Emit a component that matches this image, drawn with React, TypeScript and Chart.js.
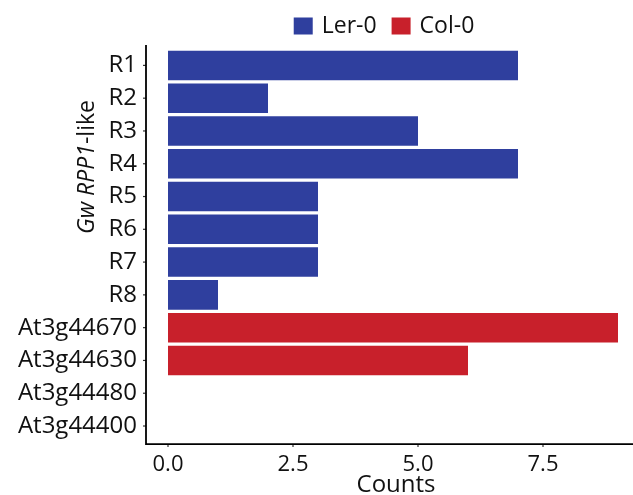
import React, { useEffect, useRef } from "react";
import { Chart, registerables } from "chart.js";

Chart.register(...registerables);

const categories = ["R1", "R2", "R3", "R4", "R5", "R6", "R7", "R8", "At3g44670", "At3g44630", "At3g44480", "At3g44400"];
const lerValues = [7, 2, 5, 7, 3, 3, 3, 1, null, null, null, null];
const colValues = [null, null, null, null, null, null, null, null, 9, 6, 0, 0];
const seriesNames = ["Ler-0", "Col-0"];
const seriesColors = ["#2F3F9E", "#C8202B"];
const xTickValues = [0, 2.5, 5, 7.5];
const xMin = -0.44;
const xMax = 9.3;
const FONT = "'Open Sans', 'DejaVu Sans', sans-serif";

const overlay = {
  id: "overlay",
  afterDraw(chart: any) {
    const ctx = chart.ctx;
    const a = chart.chartArea;
    const xs = chart.scales.x;
    const ys = chart.scales.y;
    const c0 = ys.getPixelForValue(0);
    const cN = ys.getPixelForValue(categories.length - 1);
    const sp = ys.getPixelForValue(1) - c0;
    const top = c0 - 0.62 * sp;
    const bottom = cN + 0.55 * sp;
    ctx.save();
    // tick marks
    ctx.strokeStyle = "#333";
    ctx.lineWidth = 1.2;
    categories.forEach((_, i) => {
      const y = ys.getPixelForValue(i);
      ctx.beginPath();
      ctx.moveTo(a.left - 3, y);
      ctx.lineTo(a.left, y);
      ctx.stroke();
    });
    xTickValues.forEach((v) => {
      const x = xs.getPixelForValue(v);
      ctx.beginPath();
      ctx.moveTo(x, bottom);
      ctx.lineTo(x, bottom + 3);
      ctx.stroke();
    });
    // axis lines
    ctx.strokeStyle = "#000";
    ctx.lineWidth = 1.8;
    ctx.beginPath();
    ctx.moveTo(a.left, top);
    ctx.lineTo(a.left, bottom);
    ctx.lineTo(a.right, bottom);
    ctx.stroke();

    // legend
    ctx.font = `23px ${FONT}`;
    ctx.textBaseline = "middle";
    ctx.fillStyle = "#111";
    const boxW = 19, boxH = 17, gapBox = 9, gapItem = 15;
    const widths = seriesNames.map((n) => ctx.measureText(n).width);
    const total = widths.reduce((s, w) => s + boxW + gapBox + w, 0) + gapItem * (seriesNames.length - 1);
    let lx = 384 - total / 2;
    const ly = 26;
    seriesNames.forEach((n, i) => {
      ctx.fillStyle = seriesColors[i];
      ctx.fillRect(lx, ly - boxH / 2, boxW, boxH);
      lx += boxW + gapBox;
      ctx.fillStyle = "#111";
      ctx.textAlign = "left";
      ctx.fillText(n, lx, ly);
      lx += widths[i] + gapItem;
    });

    // x title
    ctx.font = `24px ${FONT}`;
    ctx.textAlign = "center";
    ctx.textBaseline = "alphabetic";
    ctx.fillText("Counts", 396, 492);

    // y title (rotated, mixed italic)
    ctx.textBaseline = "middle";
    ctx.translate(87, 167);
    ctx.rotate(-Math.PI / 2);
    const parts = [
      { t: "Gw ", it: true },
      { t: "RPP1", it: true },
      { t: "-like", it: false },
    ];
    const fontFor = (it: boolean) => `${it ? "italic " : ""}23px ${FONT}`;
    let tw = 0;
    parts.forEach((p) => {
      ctx.font = fontFor(p.it);
      tw += ctx.measureText(p.t).width;
    });
    let px = -tw / 2;
    ctx.textAlign = "left";
    parts.forEach((p) => {
      ctx.font = fontFor(p.it);
      ctx.fillText(p.t, px, 0);
      px += ctx.measureText(p.t).width;
    });
    ctx.restore();
  },
};

export default function App() {
  const ref = useRef<HTMLCanvasElement>(null);
  useEffect(() => {
    if (!ref.current) return;
    const chart = new Chart(ref.current, {
      type: "bar",
      data: {
        labels: categories,
        datasets: [
          { label: seriesNames[0], data: lerValues as any, backgroundColor: seriesColors[0], barPercentage: 0.9, categoryPercentage: 1 },
          { label: seriesNames[1], data: colValues as any, backgroundColor: seriesColors[1], barPercentage: 0.9, categoryPercentage: 1 },
        ],
      },
      options: {
        indexAxis: "y",
        animation: false,
        responsive: false,
        layout: { padding: { top: 49, left: 0, right: 0, bottom: 0 } },
        plugins: { legend: { display: false }, tooltip: { enabled: false } },
        scales: {
          x: {
            type: "linear",
            stacked: true,
            min: xMin,
            max: xMax,
            grid: { display: false },
            border: { display: false },
            afterBuildTicks: (s: any) => {
              s.ticks = xTickValues.map((v) => ({ value: v }));
            },
            afterFit: (s: any) => {
              s.height = 52.6;
            },
            ticks: {
              color: "#111",
              padding: 1,
              font: { family: FONT, size: 22 },
              callback: (v: any) => Number(v).toFixed(1),
              maxRotation: 0,
            },
          },
          y: {
            stacked: true,
            grid: { display: false },
            border: { display: false },
            afterFit: (s: any) => {
              s.width = 146;
            },
            ticks: {
              color: "#111",
              padding: 1,
              font: { family: FONT, size: 24 },
              autoSkip: false,
            },
          },
        },
      },
      plugins: [overlay],
    });
    return () => chart.destroy();
  }, []);
  return (
    <div style={{ position: "fixed", left: 0, top: 0, width: 633, height: 495, background: "#fff" }}>
      <canvas ref={ref} width={633} height={495} style={{ display: "block" }} />
    </div>
  );
}
